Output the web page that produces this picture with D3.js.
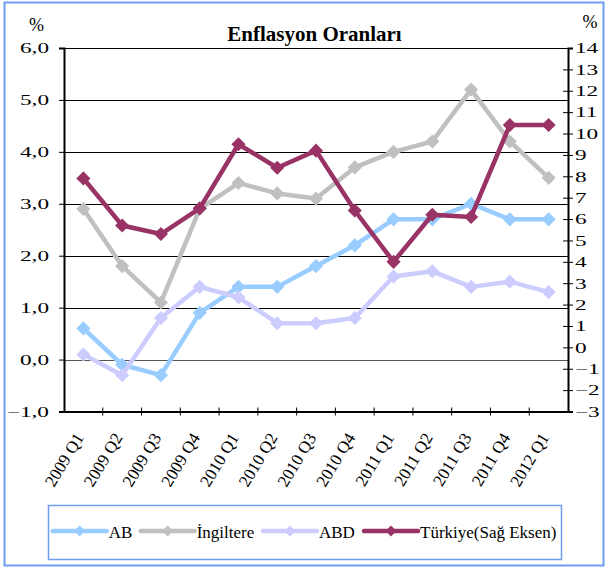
<!DOCTYPE html>
<html>
<head>
<meta charset="utf-8">
<script src="https://cdn.jsdelivr.net/npm/d3@7"></script>
<style>
  body { margin: 0; background: #fff; }
</style>
</head>
<body>
<script>
var categories = ["2009 Q1", "2009 Q2", "2009 Q3", "2009 Q4", "2010 Q1", "2010 Q2", "2010 Q3",
                  "2010 Q4", "2011 Q1", "2011 Q2", "2011 Q3", "2011 Q4", "2012 Q1"];
var ab        = [0.6, -0.1, -0.3, 0.9, 1.4, 1.4, 1.8, 2.2, 2.7, 2.7, 3.0, 2.7, 2.7];
var ingiltere = [2.9, 1.8, 1.1, 2.9, 3.4, 3.2, 3.1, 3.7, 4.0, 4.2, 5.2, 4.2, 3.5];
var abd       = [0.1, -0.3, 0.8, 1.4, 1.2, 0.7, 0.7, 0.8, 1.6, 1.7, 1.4, 1.5, 1.3];
var turkiye   = [7.9, 5.7, 5.3, 6.5, 9.5, 8.4, 9.2, 6.4, 4.0, 6.2, 6.1, 10.4, 10.4];
var leftTicks  = [-1, 0, 1, 2, 3, 4, 5, 6];
var rightTicks = [-3, -2, -1, 0, 1, 2, 3, 4, 5, 6, 7, 8, 9, 10, 11, 12, 13, 14];

var width = 606, height = 568;
var plotLeft = 64, plotRight = 568, plotTop = 48, plotBottom = 411.5;
var serif = '"Liberation Serif", "Times New Roman", Times, serif';

var svg = d3.select("body").append("svg")
    .attr("width", width)
    .attr("height", height);

// outer frame
svg.append("rect")
    .attr("x", 4.5).attr("y", 2.5)
    .attr("width", 599).attr("height", 563)
    .attr("fill", "none")
    .attr("stroke", "#6f9cf0")
    .attr("stroke-width", 2);

var x = d3.scaleBand().domain(categories).range([plotLeft, plotRight]);
var y = d3.scaleLinear().domain([-1, 6]).range([plotBottom, plotTop]);
var y2 = d3.scaleLinear().domain([-3, 14]).range([plotBottom, plotTop]);

// gridlines
svg.selectAll("line.grid")
    .data(leftTicks.filter(function(d) { return d > -1; }))
  .enter().append("line")
    .attr("class", "grid")
    .attr("x1", plotLeft).attr("x2", plotRight)
    .attr("y1", function(d) { return Math.round(y(d)) + 0.5; })
    .attr("y2", function(d) { return Math.round(y(d)) + 0.5; })
    .attr("stroke", function(d) { return d == 0 ? "#555" : "#000"; })
    .attr("stroke-width", 1);

// left axis
var yAxis = svg.append("g")
    .attr("transform", "translate(" + plotLeft + ",0)")
    .call(d3.axisLeft(y).tickValues(leftTicks).tickSize(5)
          .tickFormat(function(d) { return d3.format(".1f")(d).replace(".", ","); }));
yAxis.select(".domain").attr("stroke-width", 2);
yAxis.selectAll(".tick text")
    .attr("x", 0)
    .attr("transform", "translate(-15,0) scale(1.55,1)");

// right axis
var y2Axis = svg.append("g")
    .attr("transform", "translate(" + plotRight + ",0)")
    .call(d3.axisRight(y2).tickValues(rightTicks).tickSize(5));
y2Axis.select(".domain").attr("stroke-width", 2);
y2Axis.selectAll(".tick line").attr("x1", -5);
y2Axis.selectAll(".tick text")
    .attr("x", 0)
    .attr("transform", "translate(7,0) scale(1.55,1)");

svg.selectAll(".tick text").style("font-size", "15px");

// bottom axis
var xAxis = svg.append("g")
    .attr("transform", "translate(0," + plotBottom + ")")
    .call(d3.axisBottom(x).tickSize(0).tickFormat(""));
xAxis.select(".domain").attr("stroke-width", 2);
svg.selectAll("line.xtick")
    .data(categories.slice(1))
  .enter().append("line")
    .attr("class", "xtick")
    .attr("x1", function(d) { return x(d); })
    .attr("x2", function(d) { return x(d); })
    .attr("y1", plotBottom - 4).attr("y2", plotBottom + 4)
    .attr("stroke", "#000");

svg.selectAll("text.xlab")
    .data(categories)
  .enter().append("text")
    .attr("class", "xlab")
    .attr("transform", function(d) {
      return "translate(" + (x(d) + x.bandwidth() / 2 + 1) + "," + (plotBottom + 26) + ") rotate(-59)";
    })
    .attr("text-anchor", "end")
    .style("font-size", "17px")
    .text(function(d) { return d; });

// series
var series = [
  { name: "AB", values: ab, color: "#99ccff", scale: y },
  { name: "İngiltere", values: ingiltere, color: "#c0c0c0", scale: y },
  { name: "ABD", values: abd, color: "#ccccff", scale: y },
  { name: "Türkiye(Sağ Eksen)", values: turkiye, color: "#993366", scale: y2 }
];

var marker = d3.symbol().type(d3.symbolSquare).size(100);

series.forEach(function(s) {
  var line = d3.line()
      .x(function(d, i) { return x(categories[i]) + x.bandwidth() / 2; })
      .y(function(d) { return s.scale(d); });
  svg.append("path")
      .datum(s.values)
      .attr("d", line)
      .attr("fill", "none")
      .attr("stroke", s.color)
      .attr("stroke-width", 4.5)
      .attr("stroke-linejoin", "round");
  svg.selectAll(null)
      .data(s.values)
    .enter().append("path")
      .attr("d", marker)
      .attr("transform", function(d, i) {
        return "translate(" + (x(categories[i]) + x.bandwidth() / 2) + "," + s.scale(d) + ") rotate(45)";
      })
      .attr("fill", s.color);
});

// title and unit labels
svg.append("text")
    .attr("x", 314.5).attr("y", 41)
    .attr("text-anchor", "middle")
    .style("font-size", "21px")
    .style("font-weight", "bold")
    .text("Enflasyon Oranları");
svg.append("text").attr("x", 36.5).attr("y", 31).attr("text-anchor", "middle")
    .style("font-size", "18px").text("%");
svg.append("text").attr("x", 590).attr("y", 28).attr("text-anchor", "middle")
    .style("font-size", "18px").text("%");

// legend
svg.append("rect")
    .attr("x", 48.5).attr("y", 505.5)
    .attr("width", 513).attr("height", 54)
    .attr("fill", "none")
    .attr("stroke", "#6f9cf0")
    .attr("stroke-width", 1.5);

var legendX = [52.7, 140.7, 263, 364];
var legendY = 531;
series.forEach(function(s, i) {
  var g = svg.append("g").attr("transform", "translate(" + legendX[i] + "," + legendY + ")");
  g.append("line").attr("x1", 0).attr("x2", 54).attr("y1", 0).attr("y2", 0)
      .attr("stroke", s.color).attr("stroke-width", 4.5).attr("stroke-linecap", "round");
  g.append("path").attr("d", d3.symbol().type(d3.symbolSquare).size(60))
      .attr("transform", "translate(27,0) rotate(45)").attr("fill", s.color);
  g.append("text").attr("x", 56).attr("y", 6.5)
      .style("font-size", "17px").text(s.name);
});

svg.selectAll("text")
    .attr("font-family", serif)
    .style("font-family", serif)
    .attr("fill", "#000");
</script>
</body>
</html>
